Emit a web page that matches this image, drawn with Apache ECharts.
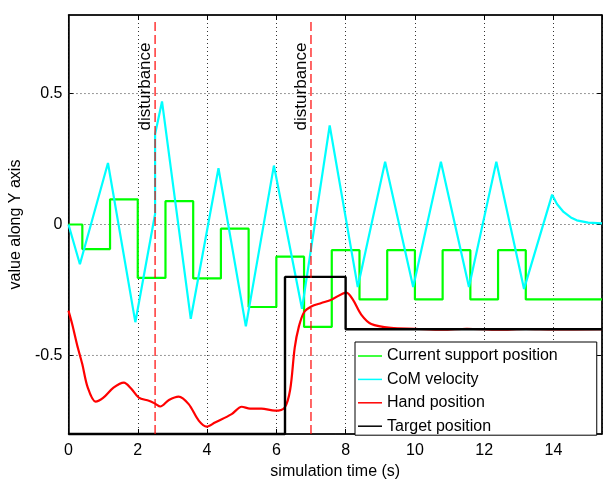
<!DOCTYPE html>
<html><head><meta charset="utf-8">
<script src="https://cdn.jsdelivr.net/npm/echarts@6/dist/echarts.min.js"></script>
<style>html,body{margin:0;padding:0;background:#fff}#c{width:605px;height:485px}</style>
</head><body><div id="c"></div>
<script>
// ---- data ----
const supportT = [0, 0.4, 1.2, 2.0, 2.8, 3.6, 4.4, 5.2, 6.0, 6.8, 7.6, 8.4, 9.2, 10.0, 10.8, 11.6, 12.4, 13.2, 15.4];
const supportY = [0, -0.094, 0.096, -0.204, 0.089, -0.206, -0.016, -0.315, -0.123, -0.391, -0.098, -0.286, -0.098, -0.286, -0.098, -0.286, -0.098, -0.286, -0.286];

const comT = [0, 0.33, 1.14, 1.93, 2.5, 2.5, 2.70, 3.53, 4.33, 5.12, 5.93, 6.74, 7.54, 8.35, 9.14, 9.95, 10.75, 11.56, 12.35, 13.15, 13.96, 14.1, 14.29, 14.5, 14.67, 15.0, 15.4];
const comY = [0, -0.152, 0.235, -0.373, 0.04, 0.345, 0.47, -0.36, 0.215, -0.389, 0.225, -0.322, 0.378, -0.239, 0.24, -0.239, 0.24, -0.239, 0.24, -0.246, 0.114, 0.078, 0.048, 0.027, 0.016, 0.007, 0.004];

const handT = [0, 0.11, 0.25, 0.4, 0.55, 0.78, 1.0, 1.3, 1.6, 1.8, 2.03, 2.32, 2.5, 2.65, 2.9, 3.18, 3.47, 3.76, 3.99, 4.23, 4.71, 5.0, 5.24, 5.57, 5.96, 6.24, 6.4, 6.53, 6.65, 6.8, 7.01, 7.3, 7.59, 8.02, 8.21, 8.45, 8.74, 9.31, 10.0, 10.8, 11.5, 12.4, 13.2, 14.0, 15.4];
const handY = [-0.329, -0.382, -0.46, -0.534, -0.62, -0.676, -0.662, -0.623, -0.604, -0.625, -0.661, -0.673, -0.684, -0.695, -0.67, -0.657, -0.686, -0.749, -0.772, -0.756, -0.724, -0.696, -0.703, -0.703, -0.711, -0.699, -0.63, -0.471, -0.39, -0.335, -0.313, -0.30, -0.287, -0.26, -0.287, -0.344, -0.38, -0.395, -0.398, -0.402, -0.398, -0.402, -0.399, -0.401, -0.400];

const targetT = [0, 6.25, 8.0, 15.4];
const targetY = [-0.8, -0.2, -0.4, -0.4];

const disturbanceT = [2.5, 7.0];
const disturbanceLabel = 'disturbance';

const seriesNames = ['Current support position', 'CoM velocity', 'Hand position', 'Target position'];
const seriesColors = ['#00ff00', '#00ffff', '#ff0000', '#000000'];

const xMin = 0, xMax = 15.4, xStep = 2;
const yMin = -0.8, yMax = 0.8;
const yTicks = [-0.5, 0, 0.5];
const xName = 'simulation time (s)';
const yName = 'value along Y axis';

// ---- chart ----
const FONT = 'Liberation Sans, Arial, Helvetica, sans-serif';
const zip = (a, b) => a.map((v, i) => [v, b[i]]);
const chart = echarts.init(document.getElementById('c'), null, {renderer: 'canvas'});

const gridStyle = {color: '#333', type: [1, 3], width: 1};
const axisBase = {
  axisLine: {show: true, onZero: false, lineStyle: {color: '#000', width: 1.5}},
  axisTick: {show: true, inside: true, length: 5, lineStyle: {color: '#000', width: 1}},
};

// horizontal grid lines at the y tick values (drawn as series through the scales)
const hGridSeries = yTicks.map(v => ({
  type: 'line', data: [[xMin, v], [xMax, v]], symbol: 'none', silent: true, z: 1,
  lineStyle: gridStyle, tooltip: {show: false}
}));
// disturbance vertical dashed lines
const distSeries = disturbanceT.map(t => ({
  type: 'line', data: [[t, yMin], [t, 0.78]], symbol: 'none', silent: true, z: 6,
  lineStyle: {color: '#ff0000', type: [9, 4], width: 1.2}
}));

const option = {
  animation: false,
  backgroundColor: '#fff',
  grid: {left: 66, right: 3, top: 15, bottom: 48, show: true, borderColor: '#000', borderWidth: 1, backgroundColor: 'transparent'},
  xAxis: [
    Object.assign({}, axisBase, {
      type: 'value', min: xMin, max: xMax, interval: xStep, position: 'bottom',
      axisLabel: {color: '#000', fontSize: 16, fontFamily: FONT, margin: 9, showMaxLabel: false},
      splitLine: {show: true, lineStyle: gridStyle},
      name: xName, nameLocation: 'middle', nameGap: 30,
      nameTextStyle: {color: '#000', fontSize: 16, fontFamily: FONT}
    }),
    Object.assign({}, axisBase, {
      type: 'value', min: xMin, max: xMax, interval: xStep, position: 'top',
      axisLabel: {show: false}, splitLine: {show: false}
    })
  ],
  yAxis: [
    Object.assign({}, axisBase, {
      type: 'value', min: yMin, max: yMax, position: 'left',
      axisTick: {show: true, inside: true, length: 5, lineStyle: {color: '#000', width: 1}, customValues: yTicks},
      axisLabel: {color: '#000', fontSize: 16, fontFamily: FONT, margin: 6, customValues: yTicks,
        formatter: v => (Math.abs(v) < 1e-9 ? '0' : String(+(+v).toFixed(2)))},
      splitLine: {show: false},
      name: yName, nameLocation: 'middle', nameGap: 33,
      nameTextStyle: {color: '#000', fontSize: 16, fontFamily: FONT}
    }),
    Object.assign({}, axisBase, {
      type: 'value', min: yMin, max: yMax, position: 'right',
      axisTick: {show: true, inside: true, length: 5, lineStyle: {color: '#000', width: 1}, customValues: yTicks},
      axisLabel: {show: false, customValues: yTicks}, splitLine: {show: false}
    })
  ],
  legend: {
    data: seriesNames,
    orient: 'vertical', left: 355, top: 342,
    backgroundColor: '#fff', borderColor: '#000', borderWidth: 1,
    padding: [6, 39, 1, 3], itemGap: 7.4, itemWidth: 24, itemHeight: 1.5,
    icon: 'rect',
    textStyle: {color: '#000', fontSize: 16, fontFamily: FONT, lineHeight: 16},
    selectedMode: false
  },
  series: hGridSeries.concat([
    {name: seriesNames[0], type: 'line', step: 'end', data: zip(supportT, supportY), symbol: 'none',
      lineStyle: {color: seriesColors[0], width: 2.2}, itemStyle: {color: seriesColors[0]}, z: 2},
    {name: seriesNames[1], type: 'line', data: zip(comT, comY), symbol: 'none',
      lineStyle: {color: seriesColors[1], width: 2.2}, itemStyle: {color: seriesColors[1]}, z: 3},
    {name: seriesNames[2], type: 'line', smooth: 0.3, data: zip(handT, handY), symbol: 'none',
      lineStyle: {color: seriesColors[2], width: 2.2}, itemStyle: {color: seriesColors[2]}, z: 4},
    {name: seriesNames[3], type: 'line', step: 'end', data: zip(targetT, targetY), symbol: 'none', clip: false,
      lineStyle: {color: seriesColors[3], width: 2.4}, itemStyle: {color: seriesColors[3]}, z: 5}
  ]).concat(distSeries)
};
chart.setOption(option);

// disturbance labels, positioned through the chart's own scale
const labelTopY = 0.695;
const graphics = disturbanceT.map(t => {
  const p = chart.convertToPixel({xAxisIndex: 0, yAxisIndex: 0}, [t, labelTopY]);
  return {
    type: 'text', x: p[0] - 1, y: p[1], rotation: Math.PI / 2, z: 10,
    style: {text: disturbanceLabel, fill: '#000', fontSize: 17, fontFamily: FONT, align: 'right', verticalAlign: 'bottom'}
  };
});
chart.setOption({graphic: graphics});
</script>
</body></html>
